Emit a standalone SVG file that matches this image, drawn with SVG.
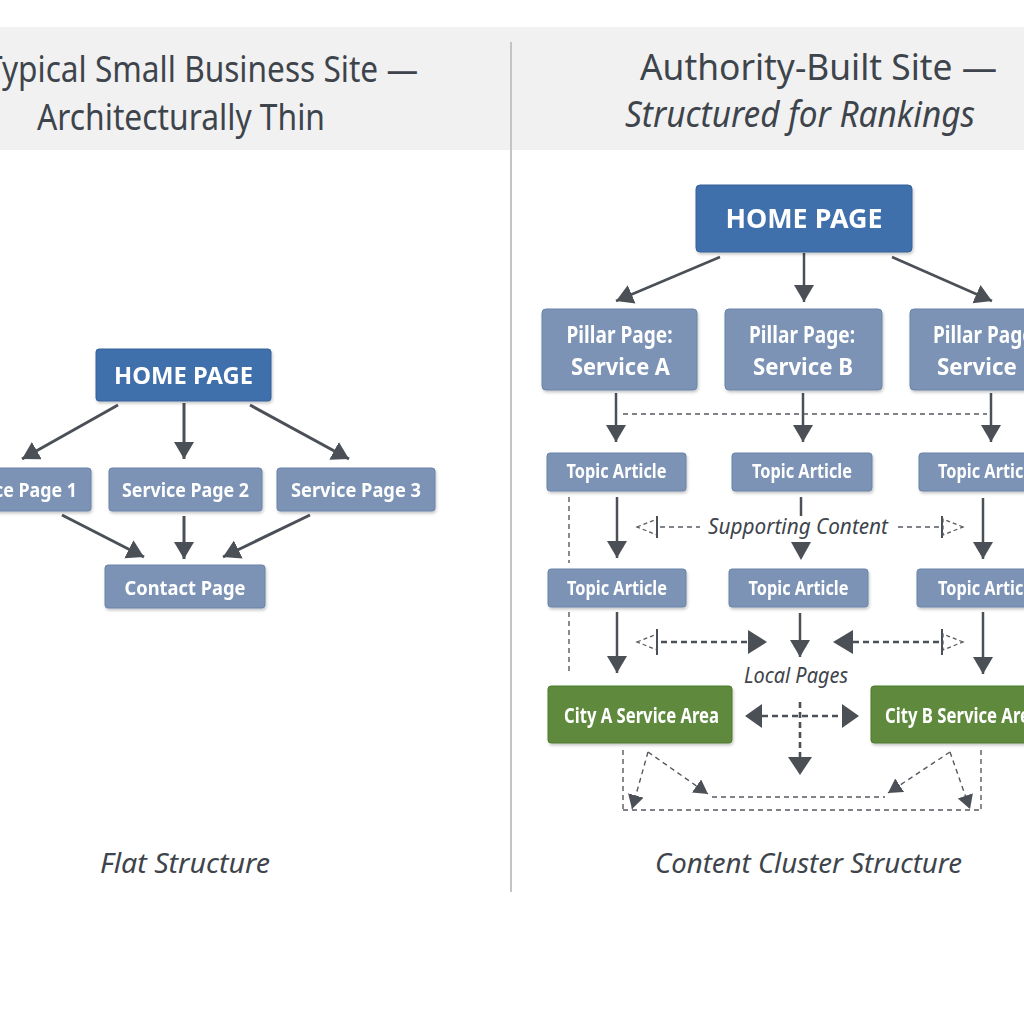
<svg xmlns="http://www.w3.org/2000/svg" width="1024" height="1024" viewBox="0 0 1024 1024">
<style>
.title{font-family:"Noto Sans","Open Sans",sans-serif;font-size:36px;fill:#3e444b}
.cap{font-family:"Noto Sans","Open Sans",sans-serif;font-size:28px;font-style:italic;fill:#3e444b}
.lbl{font-family:"Noto Sans","Open Sans",sans-serif;font-size:22px;font-style:italic;fill:#3e444b}
.bt{font-family:"Noto Sans","Open Sans",sans-serif;font-weight:bold;fill:#ffffff;text-anchor:middle}
.home{fill:#3f6fab;stroke:#36629a;stroke-width:1}
.blue{fill:#7b93b6;stroke:#6a84a9;stroke-width:1}
.green{fill:#5f8a3d;stroke:#4f7a31;stroke-width:1}
.arr{stroke:#4b5057;stroke-width:3;fill:none}
.arr2{stroke:#4b5057;stroke-width:2.5;fill:none}
.dash{stroke:#555a60;stroke-width:1.4;fill:none;stroke-dasharray:5 4}
.dashb{stroke:#4b5057;stroke-width:2.6;fill:none;stroke-dasharray:6 4}
.hollow{fill:none;stroke:#555a60;stroke-width:1.3;stroke-dasharray:4 3}
.bar{stroke:#4b5057;stroke-width:2}
.head{fill:#4b5057}
</style>
<defs>
<filter id="sh" x="-10%" y="-10%" width="120%" height="130%">
<feDropShadow dx="1" dy="2" stdDeviation="1.5" flood-color="#000" flood-opacity="0.22"/>
</filter>
<marker id="ah" markerUnits="userSpaceOnUse" markerWidth="22" markerHeight="22" refX="17" refY="10" orient="auto">
<path d="M0,0 L17,10 L0,20 z" fill="#4b5057"/>
</marker>
<marker id="ahs" markerUnits="userSpaceOnUse" markerWidth="18" markerHeight="18" refX="14" refY="8" orient="auto">
<path d="M0,0 L14,8 L0,16 z" fill="#4b5057"/>
</marker>
</defs>
<rect width="1024" height="1024" fill="#ffffff"/>
<rect x="0" y="27" width="1024" height="123" fill="#f1f1f1"/>
<line x1="511" y1="42" x2="511" y2="892" stroke="#c4c4c4" stroke-width="2"/>

<g id="titles">
<text class="title" x="-15" y="82" textLength="433" lengthAdjust="spacingAndGlyphs">Typical Small Business Site —</text>
<text class="title" x="37" y="130" textLength="288" lengthAdjust="spacingAndGlyphs">Architecturally Thin</text>
<text class="title" x="640" y="80" textLength="357" lengthAdjust="spacingAndGlyphs">Authority-Built Site —</text>
<text class="title" x="625" y="127" font-style="italic" textLength="350" lengthAdjust="spacingAndGlyphs">Structured for Rankings</text>
<text class="cap" x="100" y="873" textLength="170" lengthAdjust="spacingAndGlyphs">Flat Structure</text>
<text class="cap" x="655" y="873" textLength="307" lengthAdjust="spacingAndGlyphs">Content Cluster Structure</text>
</g>

<g id="connectors">
<line class="arr" x1="118" y1="405" x2="22" y2="459" marker-end="url(#ah)"/>
<line class="arr" x1="184" y1="403" x2="184" y2="459" marker-end="url(#ah)"/>
<line class="arr" x1="250" y1="405" x2="349" y2="459" marker-end="url(#ah)"/>
<line class="arr" x1="62" y1="515" x2="144" y2="557" marker-end="url(#ah)"/>
<line class="arr" x1="184" y1="516" x2="184" y2="559" marker-end="url(#ah)"/>
<line class="arr" x1="310" y1="515" x2="223" y2="557" marker-end="url(#ah)"/>
<line class="arr2" x1="720" y1="257" x2="616" y2="301" marker-end="url(#ah)"/>
<line class="arr2" x1="804" y1="253" x2="804" y2="302" marker-end="url(#ah)"/>
<line class="arr2" x1="892" y1="257" x2="992" y2="301" marker-end="url(#ah)"/>
<line class="arr2" x1="616" y1="393" x2="616" y2="442" marker-end="url(#ah)"/>
<line class="arr2" x1="803" y1="393" x2="803" y2="442" marker-end="url(#ah)"/>
<line class="arr2" x1="991" y1="393" x2="991" y2="442" marker-end="url(#ah)"/>
<line class="dash" x1="623" y1="414" x2="987" y2="414"/>
<line class="arr2" x1="617" y1="497" x2="617" y2="558" marker-end="url(#ah)"/>
<line class="arr2" x1="983" y1="498" x2="983" y2="559" marker-end="url(#ah)"/>
<line class="arr2" x1="801" y1="497" x2="801" y2="516"/>
<polygon class="head" points="791,542 811,542 801,560"/>
<line class="dash" x1="569" y1="497" x2="569" y2="563"/>
<line class="dash" x1="569" y1="612" x2="569" y2="675"/>
<polygon class="hollow" points="637,527 657,519 657,535"/>
<line class="bar" x1="657" y1="516" x2="657" y2="538"/>
<line class="dash" x1="660" y1="527" x2="700" y2="527"/>
<line class="dash" x1="898" y1="527" x2="940" y2="527"/>
<line class="bar" x1="942" y1="516" x2="942" y2="538"/>
<polygon class="hollow" points="963,527 943,519 943,535"/>
<line class="arr2" x1="617" y1="612" x2="617" y2="673" marker-end="url(#ah)"/>
<line class="arr2" x1="800" y1="613" x2="800" y2="657" marker-end="url(#ah)"/>
<line class="arr2" x1="983" y1="612" x2="983" y2="674" marker-end="url(#ah)"/>
<polygon class="hollow" points="637,642 657,634 657,650"/>
<line class="bar" x1="657" y1="629" x2="657" y2="655"/>
<line class="dashb" x1="661" y1="642" x2="748" y2="642"/>
<polygon class="head" points="748,630 767,642 748,654"/>
<polygon class="head" points="853,630 833,642 853,654"/>
<line class="dashb" x1="853" y1="642" x2="940" y2="642"/>
<line class="bar" x1="942" y1="629" x2="942" y2="655"/>
<polygon class="hollow" points="963,642 943,634 943,650"/>
<polygon class="head" points="745,716 762,704 762,728"/>
<polygon class="head" points="859,716 842,704 842,728"/>
<line class="dashb" x1="762" y1="716" x2="842" y2="716"/>
<line class="dashb" x1="800" y1="702" x2="800" y2="757"/>
<polygon class="head" points="788,757 812,757 800,775"/>
<line class="dash" x1="623" y1="750" x2="623" y2="810"/>
<line class="dash" x1="623" y1="810" x2="981" y2="810"/>
<line class="dash" x1="981" y1="750" x2="981" y2="810"/>
<line class="dash" x1="648" y1="752" x2="708" y2="794" marker-end="url(#ahs)"/>
<line class="dash" x1="712" y1="797" x2="885" y2="797"/>
<line class="dash" x1="950" y1="752" x2="888" y2="793" marker-end="url(#ahs)"/>
<line class="dash" x1="648" y1="752" x2="632" y2="809" marker-end="url(#ahs)"/>
<line class="dash" x1="950" y1="752" x2="970" y2="809" marker-end="url(#ahs)"/>
</g>

<g id="left-home" filter="url(#sh)"><rect class="home" x="96" y="349" width="175" height="52" rx="3"/><text class="bt" x="183.5" y="384" font-size="23" textLength="139" lengthAdjust="spacingAndGlyphs">HOME PAGE</text></g>
<g id="left-sp1" filter="url(#sh)"><rect class="blue" x="-64" y="468" width="155" height="43" rx="3"/><text class="bt" x="13.5" y="497" font-size="20" textLength="127" lengthAdjust="spacingAndGlyphs">Service Page 1</text></g>
<g id="left-sp2" filter="url(#sh)"><rect class="blue" x="109" y="468" width="153" height="43" rx="3"/><text class="bt" x="185.5" y="497" font-size="20" textLength="127" lengthAdjust="spacingAndGlyphs">Service Page 2</text></g>
<g id="left-sp3" filter="url(#sh)"><rect class="blue" x="277" y="468" width="158" height="43" rx="3"/><text class="bt" x="356" y="497" font-size="20" textLength="130" lengthAdjust="spacingAndGlyphs">Service Page 3</text></g>
<g id="left-contact" filter="url(#sh)"><rect class="blue" x="105" y="565" width="160" height="43" rx="3"/><text class="bt" x="185" y="595" font-size="20" textLength="121" lengthAdjust="spacingAndGlyphs">Contact Page</text></g>

<g id="right-home" filter="url(#sh)"><rect class="home" x="696" y="185" width="216" height="67" rx="4"/><text class="bt" x="804" y="228" font-size="26" textLength="157" lengthAdjust="spacingAndGlyphs">HOME PAGE</text></g>
<g id="pillar-a" filter="url(#sh)"><rect class="blue" x="542" y="309" width="155" height="81" rx="4"/><text class="bt" x="619.5" y="343" font-size="23" textLength="106" lengthAdjust="spacingAndGlyphs">Pillar Page:</text><text class="bt" x="620.5" y="375" font-size="23" textLength="99" lengthAdjust="spacingAndGlyphs">Service A</text></g>
<g id="pillar-b" filter="url(#sh)"><rect class="blue" x="725" y="309" width="157" height="81" rx="4"/><text class="bt" x="802" y="343" font-size="23" textLength="106" lengthAdjust="spacingAndGlyphs">Pillar Page:</text><text class="bt" x="803" y="375" font-size="23" textLength="100" lengthAdjust="spacingAndGlyphs">Service B</text></g>
<g id="pillar-c" filter="url(#sh)"><rect class="blue" x="910" y="309" width="155" height="81" rx="4"/><text class="bt" x="986" y="343" font-size="23" textLength="106" lengthAdjust="spacingAndGlyphs">Pillar Page:</text><text class="bt" x="987" y="375" font-size="23" textLength="100" lengthAdjust="spacingAndGlyphs">Service C</text></g>

<g id="topic-a1" filter="url(#sh)"><rect class="blue" x="547" y="453" width="139" height="38" rx="3"/><text class="bt" x="616.5" y="478" font-size="20" textLength="100" lengthAdjust="spacingAndGlyphs">Topic Article</text></g>
<g id="topic-b1" filter="url(#sh)"><rect class="blue" x="732" y="453" width="140" height="38" rx="3"/><text class="bt" x="802" y="478" font-size="20" textLength="100" lengthAdjust="spacingAndGlyphs">Topic Article</text></g>
<g id="topic-c1" filter="url(#sh)"><rect class="blue" x="919" y="453" width="140" height="38" rx="3"/><text class="bt" x="988" y="478" font-size="20" textLength="100" lengthAdjust="spacingAndGlyphs">Topic Article</text></g>
<g id="topic-a2" filter="url(#sh)"><rect class="blue" x="548" y="569" width="138" height="38" rx="3"/><text class="bt" x="617" y="595" font-size="20" textLength="100" lengthAdjust="spacingAndGlyphs">Topic Article</text></g>
<g id="topic-b2" filter="url(#sh)"><rect class="blue" x="729" y="569" width="139" height="38" rx="3"/><text class="bt" x="798.5" y="595" font-size="20" textLength="100" lengthAdjust="spacingAndGlyphs">Topic Article</text></g>
<g id="topic-c2" filter="url(#sh)"><rect class="blue" x="917" y="569" width="140" height="38" rx="3"/><text class="bt" x="988" y="595" font-size="20" textLength="100" lengthAdjust="spacingAndGlyphs">Topic Article</text></g>

<g id="city-a" filter="url(#sh)"><rect class="green" x="548" y="686" width="184" height="57" rx="3"/><text class="bt" x="641.5" y="723" font-size="21" textLength="155" lengthAdjust="spacingAndGlyphs">City A Service Area</text></g>
<g id="city-b" filter="url(#sh)"><rect class="green" x="871" y="686" width="184" height="57" rx="3"/><text class="bt" x="962.5" y="723" font-size="21" textLength="155" lengthAdjust="spacingAndGlyphs">City B Service Area</text></g>

<g id="labels">
<text class="lbl" x="708" y="534" textLength="180" lengthAdjust="spacingAndGlyphs">Supporting Content</text>
<text class="lbl" x="744" y="683" textLength="104" lengthAdjust="spacingAndGlyphs">Local Pages</text>
</g>
</svg>
